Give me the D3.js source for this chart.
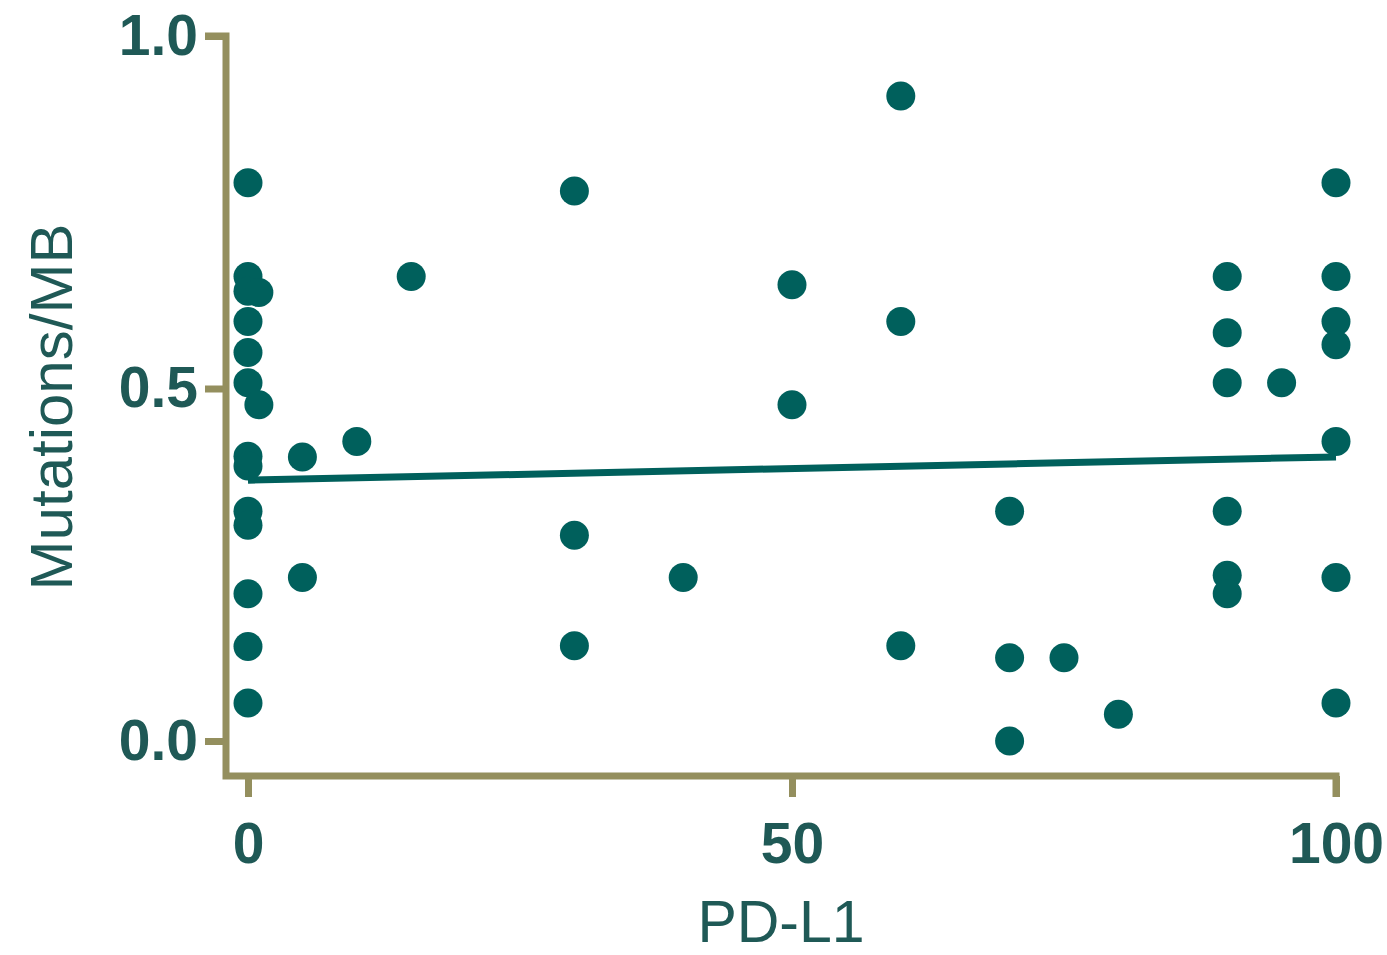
<!DOCTYPE html>
<html>
<head>
<meta charset="utf-8">
<script src="https://cdn.jsdelivr.net/npm/d3@7/dist/d3.min.js"></script>
<style>
  html, body { margin: 0; padding: 0; background: #ffffff; }
  svg { display: block; }
</style>
</head>
<body>
<svg id="chart" width="1387" height="955"></svg>
<script>
// PD-L1 score (%) for each sample
const pdl1 = [
  0, 0, 0, 1, 0, 0, 0, 1, 0, 0, 0, 0, 0, 0, 0,
  5, 5, 10, 15,
  30, 30, 30, 40,
  50, 50, 60, 60, 60,
  70, 70, 70, 75, 80,
  90, 90, 90, 90, 90, 90, 95,
  100, 100, 100, 100, 100, 100, 100
];

// Tumour mutation burden (mutations per megabase) for each sample
const mutations = [
  0.792, 0.659, 0.638, 0.636, 0.595, 0.551, 0.508, 0.477, 0.404, 0.390, 0.326, 0.306, 0.209, 0.134, 0.054,
  0.403, 0.232, 0.425, 0.659,
  0.780, 0.292, 0.135, 0.232,
  0.647, 0.477, 0.915, 0.595, 0.135,
  0.326, 0.118, 0.000, 0.118, 0.038,
  0.659, 0.579, 0.508, 0.326, 0.235, 0.209, 0.508,
  0.792, 0.659, 0.595, 0.562, 0.425, 0.232, 0.054
];

// Linear fit: predicted mutations/MB at PD-L1 = 0 and PD-L1 = 100
const fitX = [0, 100];
const fitY = [0.370, 0.403];

const xTicks = [0, 50, 100];
const yTicks = [0.0, 0.5, 1.0];
const xTitle = "PD-L1";
const yTitle = "Mutations/MB";

const axisColor = "#948f5e";
const textColor = "#1f5956";
const dotColor = "#04605c";

const svg = d3.select("#chart");

const defs = svg.append("defs");
defs.append("filter").attr("id", "soft")
  .append("feGaussianBlur").attr("stdDeviation", 0.6);

const x = d3.scaleLinear().domain([0, 100]).range([248, 1336]);
const y = d3.scaleLinear().domain([0, 1]).range([741, 36]);

const yAxisX = 226;   // vertical axis offset left of x = 0
const xAxisY = 776;   // horizontal axis offset below y = 0
const tickLen = 21;

// Y axis
const gy = svg.append("g")
  .attr("transform", `translate(${yAxisX},0)`)
  .call(d3.axisLeft(y).tickValues(yTicks).tickFormat(d3.format(".1f"))
    .tickSize(tickLen).tickPadding(7));
gy.select(".domain").remove();

// X axis
const gx = svg.append("g")
  .attr("transform", `translate(0,${xAxisY})`)
  .call(d3.axisBottom(x).tickValues(xTicks).tickFormat(d3.format("d"))
    .tickSize(tickLen).tickPadding(26));
gx.select(".domain").remove();

[gx, gy].forEach(g => {
  g.selectAll(".tick line")
    .attr("stroke", axisColor).attr("stroke-width", 7);
  g.selectAll(".tick text")
    .attr("fill", textColor)
    .attr("font-family", "'Liberation Sans', Arial, sans-serif")
    .attr("font-weight", "bold")
    .attr("font-size", 57);
});

// Joined axis lines (L shape with end caps at the top and right)
const axisPath = d3.path();
axisPath.moveTo(yAxisX - tickLen, y(1));
axisPath.lineTo(yAxisX, y(1));
axisPath.lineTo(yAxisX, xAxisY);
axisPath.lineTo(x(100), xAxisY);
axisPath.lineTo(x(100), xAxisY + tickLen);
svg.append("path")
  .attr("d", axisPath.toString())
  .attr("fill", "none")
  .attr("stroke", axisColor)
  .attr("stroke-width", 7)
  .attr("stroke-linejoin", "miter");

// Axis titles
svg.append("text")
  .attr("transform", `translate(72,407) rotate(-90)`)
  .attr("text-anchor", "middle")
  .attr("fill", textColor)
  .attr("font-family", "'Liberation Sans', Arial, sans-serif")
  .attr("font-size", 60)
  .text(yTitle);

svg.append("text")
  .attr("x", 781).attr("y", 942)
  .attr("text-anchor", "middle")
  .attr("fill", textColor)
  .attr("font-family", "'Liberation Sans', Arial, sans-serif")
  .attr("font-size", 59)
  .text(xTitle);

const plot = svg.append("g").attr("filter", "url(#soft)");

// Regression line
plot.append("path")
  .datum(fitX.map((v, i) => [v, fitY[i]]))
  .attr("d", d3.line().x(d => x(d[0])).y(d => y(d[1])))
  .attr("fill", "none")
  .attr("stroke", dotColor)
  .attr("stroke-width", 7);

// Sample points
plot.selectAll("circle")
  .data(pdl1.map((v, i) => ({ x: v, y: mutations[i] })))
  .join("circle")
  .attr("cx", d => x(d.x))
  .attr("cy", d => y(d.y))
  .attr("r", 14.5)
  .attr("fill", dotColor);
</script>
</body>
</html>
